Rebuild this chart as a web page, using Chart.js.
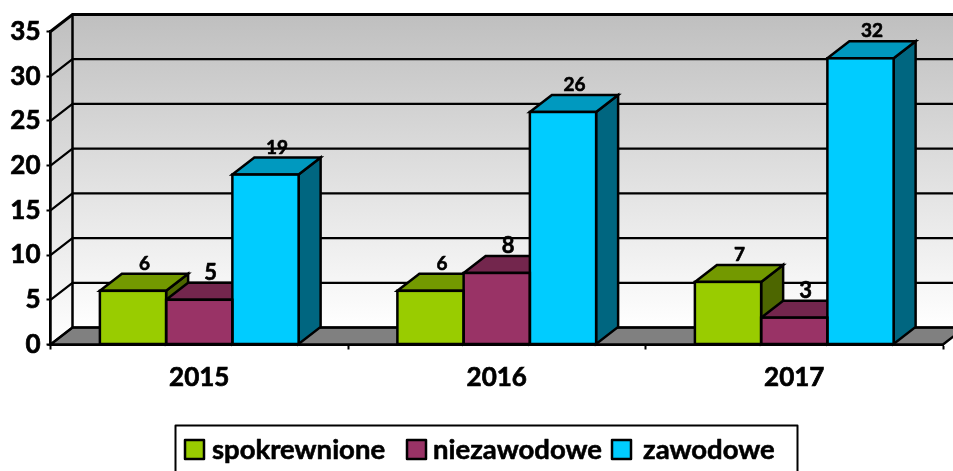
<!DOCTYPE html>
<html>
<head>
<meta charset="utf-8">
<style>html,body{margin:0;padding:0;background:#fff;overflow:hidden}#w{width:953px;height:471px;position:relative}</style>
<script src="https://cdn.jsdelivr.net/npm/chart.js@4/dist/chart.umd.min.js"></script>
</head>
<body>
<div id="w"><canvas id="c"></canvas></div>
<script>
const categories = ['2015', '2016', '2017'];
const spokrewnione = [6, 6, 7];
const niezawodowe = [5, 8, 3];
const zawodowe = [19, 26, 32];
const yTicks = [0, 5, 10, 15, 20, 25, 30, 35];

const FONT = 'Lato, "Open Sans", sans-serif';
const DX = 22, DY = 17;
const shades = [
  {front: '#99cc00', top: '#739900', side: '#4d6600', labelSize: 19},
  {front: '#993366', top: '#73264d', side: '#4d1a33', labelSize: 22},
  {front: '#00ccff', top: '#0099bf', side: '#006680', labelSize: 19}
];

function poly(ctx, pts, fill, lw) {
  ctx.beginPath();
  pts.forEach((p, i) => i ? ctx.lineTo(p[0], p[1]) : ctx.moveTo(p[0], p[1]));
  ctx.closePath();
  if (fill) { ctx.fillStyle = fill; ctx.fill(); }
  ctx.lineWidth = lw; ctx.strokeStyle = '#000'; ctx.lineJoin = 'miter'; ctx.stroke();
}

function boldText(ctx, s, x, y) {
  ctx.lineWidth = 0.6; ctx.strokeStyle = '#000'; ctx.lineJoin = 'round';
  ctx.strokeText(s, x, y);
  ctx.fillText(s, x, y);
}

const box3d = {
  id: 'box3d',
  beforeDatasetsDraw(chart) {
    const {ctx, chartArea: a, scales: {y}} = chart;
    const b = a.bottom, t = a.top, l = a.left, r = a.right;
    ctx.save();
    const g = ctx.createLinearGradient(0, t - DY, 0, b - DY);
    g.addColorStop(0, '#bfbfbf'); g.addColorStop(1, '#ffffff');
    // walls
    ctx.fillStyle = g;
    ctx.fillRect(l + DX, t - DY, r - l, b - t);
    const g2 = ctx.createLinearGradient(0, t - DY, 0, b);
    g2.addColorStop(0, '#bfbfbf'); g2.addColorStop(1, '#ffffff');
    ctx.beginPath();
    ctx.moveTo(l, t); ctx.lineTo(l + DX, t - DY); ctx.lineTo(l + DX, b - DY); ctx.lineTo(l, b); ctx.closePath();
    ctx.fillStyle = g2; ctx.fill();
    // floor
    poly(ctx, [[l, b], [l + DX, b - DY], [r + DX, b - DY], [r, b]], '#808080', 2.5);
    // grid
    ctx.strokeStyle = '#000';
    yTicks.forEach(v => {
      const py = y.getPixelForValue(v);
      ctx.lineWidth = v === 35 ? 3 : 2.2;
      ctx.beginPath();
      ctx.moveTo(l, py); ctx.lineTo(l + DX, py - DY); ctx.lineTo(r + DX, py - DY);
      ctx.stroke();
    });
    ctx.lineWidth = 2.5;
    ctx.beginPath(); ctx.moveTo(l + DX, t - DY); ctx.lineTo(l + DX, b - DY); ctx.stroke();
    ctx.beginPath(); ctx.moveTo(l, t); ctx.lineTo(l, b); ctx.stroke();
    // bar sides and tops
    chart.data.datasets.forEach((ds, i) => {
      chart.getDatasetMeta(i).data.forEach(bar => {
        const p = bar.getProps(['x', 'y', 'base', 'width'], true);
        const x0 = p.x - p.width / 2, x1 = p.x + p.width / 2;
        poly(ctx, [[x1, p.y], [x1 + DX, p.y - DY], [x1 + DX, p.base - DY], [x1, p.base]], shades[i].side, 2.5);
        poly(ctx, [[x0, p.y], [x0 + DX, p.y - DY], [x1 + DX, p.y - DY], [x1, p.y]], shades[i].top, 2.5);
      });
    });
    ctx.restore();
  },
  afterDatasetsDraw(chart) {
    const {ctx} = chart;
    ctx.save();
    // front outlines
    chart.data.datasets.forEach((ds, i) => {
      chart.getDatasetMeta(i).data.forEach(bar => {
        const p = bar.getProps(['x', 'y', 'base', 'width'], true);
        ctx.lineWidth = 2.5; ctx.strokeStyle = '#000';
        ctx.strokeRect(p.x - p.width / 2, p.y, p.width, p.base - p.y);
      });
    });
    // value labels
    ctx.fillStyle = '#000'; ctx.textAlign = 'center'; ctx.textBaseline = 'middle';
    chart.data.datasets.forEach((ds, i) => {
      ctx.font = 'bold ' + shades[i].labelSize + 'px ' + FONT;
      chart.getDatasetMeta(i).data.forEach((bar, j) => {
        const p = bar.getProps(['x', 'y'], true);
        boldText(ctx, String(ds.data[j]), p.x + DX / 2 + 0.5, p.y - DY - 10);
      });
    });
    // legend
    const bx = 175.5, by = 425.5;
    ctx.lineWidth = 2; ctx.strokeStyle = '#000';
    ctx.strokeRect(bx, by, 622, 60);
    const swX = [185, 407, 612], txtX = [212, 433, 643];
    ctx.textAlign = 'left';
    ctx.font = 'bold 27.5px ' + FONT;
    chart.data.datasets.forEach((ds, i) => {
      ctx.fillStyle = shades[i].front;
      ctx.fillRect(swX[i], 440, 19, 19);
      ctx.lineWidth = 2.5; ctx.strokeStyle = '#000'; ctx.strokeRect(swX[i], 440, 19, 19);
      ctx.fillStyle = '#000';
      boldText(ctx, ds.label, txtX[i], 450);
    });
    ctx.restore();
  }
};

new Chart(document.getElementById('c'), {
  type: 'bar',
  data: {
    labels: categories,
    datasets: [
      {label: 'spokrewnione', data: spokrewnione, backgroundColor: shades[0].front},
      {label: 'niezawodowe', data: niezawodowe, backgroundColor: shades[1].front},
      {label: 'zawodowe', data: zawodowe, backgroundColor: shades[2].front}
    ]
  },
  plugins: [box3d],
  options: {
    responsive: true,
    maintainAspectRatio: false,
    animation: false,
    layout: {padding: {top: 31.5, right: 10, left: 0, bottom: 0}},
    plugins: {legend: {display: false}, tooltip: {enabled: false}, title: {display: false}},
    datasets: {bar: {barPercentage: 1, categoryPercentage: 0.668, borderWidth: 0}},
    scales: {
      x: {
        afterFit(s) { s.height = 126.5; },
        grid: {display: true, drawOnChartArea: false, drawTicks: true, tickLength: 5, tickColor: '#000', tickWidth: 2, color: '#000'},
        border: {display: true, color: '#000', width: 3},
        ticks: {color: '#000', font: {family: FONT, size: 26, weight: 'bold'}, padding: 13, maxRotation: 0, textStrokeColor: '#000', textStrokeWidth: 0.7}
      },
      y: {
        min: 0, max: 35,
        afterFit(s) { s.width = 50.5; },
        afterBuildTicks(s) { s.ticks = yTicks.map(v => ({value: v})); },
        grid: {display: true, drawOnChartArea: false, drawTicks: true, tickLength: 4, tickColor: '#000', tickWidth: 2, color: '#000'},
        border: {display: true, color: '#000', width: 3},
        ticks: {color: '#000', font: {family: FONT, size: 26, weight: 'bold'}, padding: 6, textStrokeColor: '#000', textStrokeWidth: 0.7}
      }
    }
  }
});
</script>
</body>
</html>
